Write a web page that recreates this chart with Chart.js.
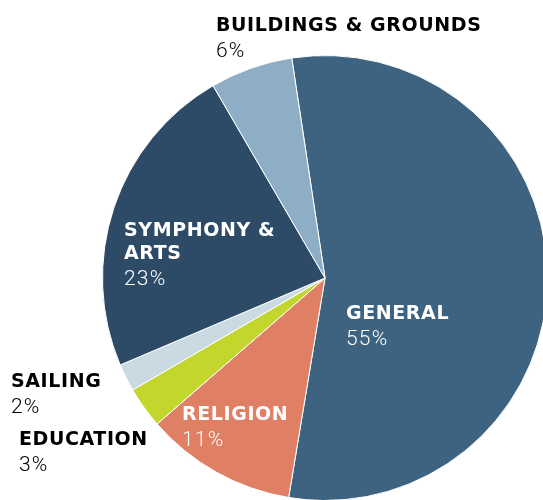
<!DOCTYPE html>
<html>
<head>
<meta charset="utf-8">
<script src="https://cdn.jsdelivr.net/npm/chart.js@4"></script>
<style>
  html, body { margin: 0; padding: 0; background: #fff; overflow: hidden; width: 543px; height: 500px; }
  #wrap { position: absolute; left: 0; top: 0; width: 560px; height: 520px; }
</style>
</head>
<body>
<div id="wrap"><canvas id="pie" width="560" height="520"></canvas></div>
<script>
const categories = ["GENERAL", "RELIGION", "EDUCATION", "SAILING", "SYMPHONY & ARTS", "BUILDINGS & GROUNDS"];
const shares = [55, 11, 3, 2, 23, 6];
const sliceColors = ["#3d6380", "#df7f63", "#c2d62e", "#c9dae2", "#2d4a67", "#8eaec6"];

// label placement: x, baseline of first line, title lines, colour
const labelSpots = [
  { x: 346, y: 319, lines: ["GENERAL"], color: "#fff" },
  { x: 182, y: 420, lines: ["RELIGION"], color: "#fff" },
  { x: 19, y: 445, lines: ["EDUCATION"], color: "#000" },
  { x: 11, y: 387, lines: ["SAILING"], color: "#000" },
  { x: 124, y: 236, lines: ["SYMPHONY &", "ARTS"], color: "#fff" },
  { x: 216, y: 31, lines: ["BUILDINGS & GROUNDS"], color: "#000" },
];

const labelPlugin = {
  id: "sliceLabels",
  afterDraw(chart) {
    const ctx = chart.ctx;
    ctx.save();
    ctx.textBaseline = "alphabetic";
    ctx.textAlign = "left";
    labelSpots.forEach((s, i) => {
      ctx.fillStyle = s.color;
      ctx.font = "bold 19px 'DejaVu Sans'";
      ctx.letterSpacing = "0.6px";
      let y = s.y;
      s.lines.forEach(line => {
        ctx.fillText(line, s.x, y);
        y += 23;
      });
      ctx.font = "300 21px Roboto";
      ctx.letterSpacing = "1.2px";
      ctx.fillText(chart.data.datasets[0].data[i] + "%", s.x, y + 3);
    });
    ctx.restore();
  },
};

new Chart(document.getElementById("pie").getContext("2d"), {
  type: "pie",
  data: {
    labels: categories,
    datasets: [{
      data: shares,
      backgroundColor: sliceColors,
      borderColor: "#ffffff",
      borderWidth: 1,
    }],
  },
  options: {
    responsive: false,
    animation: false,
    rotation: -8.6,
    layout: { padding: { left: 102, top: 55, right: 12, bottom: 19 } },
    plugins: { legend: { display: false }, tooltip: { enabled: false } },
    events: [],
  },
  plugins: [labelPlugin],
});
</script>
</body>
</html>
